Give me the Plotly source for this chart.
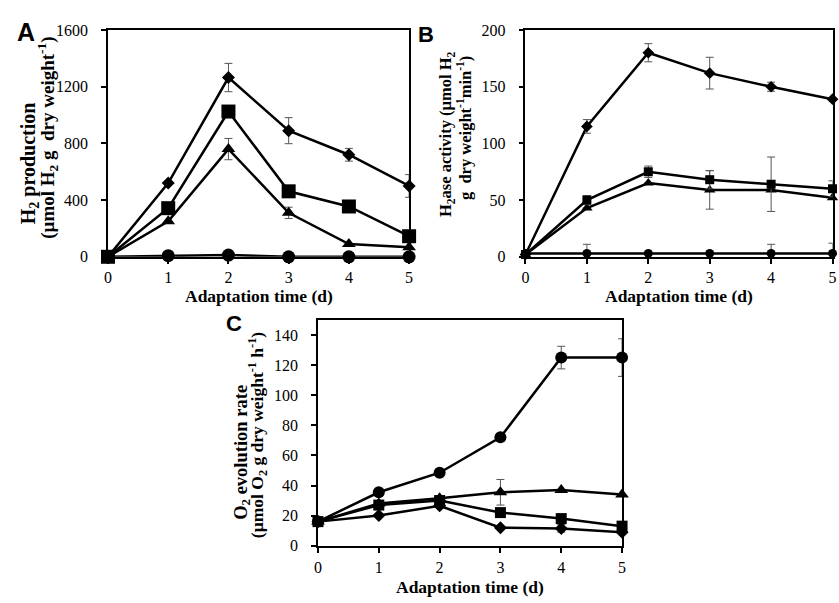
import plotly.graph_objects as go

W, H = 839, 603

days = [0, 1, 2, 3, 4, 5]
x_ticks = [0, 1, 2, 3, 4, 5]

# Panel A: H2 production
a_diamond = [0, 520, 1265, 890, 720, 500]
a_diamond_err = [0, 0, 100, 92, 45, 80]
a_square = [0, 343, 1025, 462, 355, 145]
a_square_err = [0, 0, 0, 0, 0, 0]
a_triangle = [0, 250, 760, 310, 90, 68]
a_triangle_err = [0, 0, 75, 40, 0, 0]
a_circle = [0, 8, 12, 0, 0, 0]
a_circle_err = [0, 0, 0, 0, 0, 0]
a_yticks = [0, 400, 800, 1200, 1600]

# Panel B: H2ase activity
b_diamond = [2, 115, 180, 162, 150, 139]
b_diamond_err = [0, 6, 8, 14, 4, 0]
b_square = [2, 50, 75, 68, 64, 60]
b_square_err = [0, 4, 5, 8, 24, 7]
b_triangle = [2, 43, 65, 59, 59, 52]
b_triangle_err = [0, 0, 0, 17, 0, 0]
b_circle = [3, 3, 3, 3, 3, 3]
b_circle_err = [0, 8, 0, 0, 8, 9]
b_yticks = [0, 50, 100, 150, 200]

# Panel C: O2 evolution rate
c_circle = [16, 35.5, 48.5, 72, 125, 125]
c_circle_err = [0, 0, 0, 0, 7.5, 12.5]
c_triangle = [16, 28, 31.5, 35.5, 37, 34]
c_triangle_err = [0, 0, 0, 8.5, 0, 0]
c_square = [16, 27, 30, 22, 18, 13]
c_square_err = [0, 0, 0, 0, 0, 0]
c_diamond = [16, 20, 26.5, 12, 11.5, 9]
c_diamond_err = [0, 0, 0, 0, 2.5, 0]
c_yticks = [0, 20, 40, 60, 80, 100, 120, 140]

SERIF = "Liberation Serif"


def px(xp):
    return xp / W


def py(yp):
    return 1 - yp / H


fig = go.Figure()


def add_series(xa, ya, yvals, errs, symbol, size):
    fig.add_trace(go.Scatter(
        x=days, y=yvals, xaxis=xa, yaxis=ya, mode="lines+markers",
        line=dict(color="black", width=2.5),
        marker=dict(symbol=symbol, size=size, color="black"),
        error_y=dict(type="data", array=errs, visible=True, color="#555555",
                     thickness=1, width=4),
        cliponaxis=False, showlegend=False,
    ))


# Panel A
add_series("x", "y", a_diamond, a_diamond_err, "diamond", 10)
add_series("x", "y", a_triangle, a_triangle_err, "triangle-up", 12)
add_series("x", "y", a_circle, a_circle_err, "circle", 13)
add_series("x", "y", a_square, a_square_err, "square", 14)
# Panel B
add_series("x2", "y2", b_diamond, b_diamond_err, "diamond", 9)
add_series("x2", "y2", b_triangle, b_triangle_err, "triangle-up", 10)
add_series("x2", "y2", b_circle, b_circle_err, "circle", 9)
add_series("x2", "y2", b_square, b_square_err, "square", 9)
# Panel C
add_series("x3", "y3", c_diamond, c_diamond_err, "diamond", 10)
add_series("x3", "y3", c_triangle, c_triangle_err, "triangle-up", 12)
add_series("x3", "y3", c_square, c_square_err, "square", 11)
add_series("x3", "y3", c_circle, c_circle_err, "circle", 12)

axis_common = dict(showline=True, linecolor="black", linewidth=1.8, mirror=True,
                   ticks="outside", ticklen=5, tickwidth=1.5, tickcolor="black",
                   showgrid=False, zeroline=False,
                   tickfont=dict(family=SERIF, size=16, color="black"))

fig.update_layout(
    autosize=True, margin=dict(l=0, r=0, t=0, b=0),
    paper_bgcolor="white", plot_bgcolor="white",
    xaxis=dict(domain=[px(105), px(409)], range=[0, 5], tickvals=x_ticks,
               anchor="y", **axis_common),
    yaxis=dict(domain=[py(256), py(22.7)], range=[0, 1600], tickvals=a_yticks,
               anchor="x", ticklabelstandoff=10, **axis_common),
    xaxis2=dict(domain=[px(526.5), px(836.5)], range=[0, 5], tickvals=x_ticks,
                anchor="y2", **axis_common),
    yaxis2=dict(domain=[py(256), py(22.7)], range=[0, 200], tickvals=b_yticks,
                anchor="x2", ticklabelstandoff=10, **axis_common),
    xaxis3=dict(domain=[px(317), px(624)], range=[0, 5], tickvals=x_ticks,
                anchor="y3", ticklabelstandoff=1, **axis_common),
    yaxis3=dict(domain=[py(553.3), py(321)], range=[0, 150], tickvals=c_yticks,
                anchor="x3", ticklabelstandoff=10, **axis_common),
)

ann = []


def text(x, y, s, size, family=SERIF, angle=0):
    ann.append(dict(x=px(x), y=py(y), xref="paper", yref="paper", text=s,
                    showarrow=False, textangle=angle, xanchor="center",
                    yanchor="middle",
                    font=dict(family=family, size=size, color="black")))


# x titles
xt = "<b>Adaptation time (d)</b>"
text(257, 296, xt, 17.5)
text(681, 296, xt, 17.5)
text(470.5, 596, xt, 17.5)

# panel letters
text(22, 25, "<b>A</b>", 25, family="Liberation Sans")
text(426.5, 27.5, "<b>B</b>", 22, family="Liberation Sans")
text(232, 325, "<b>C</b>", 22, family="Liberation Sans")

# y titles
text(26, 160, "<b>H<sub>2</sub> production</b>", 20, angle=-90)
text(44, 134, "<b>(µmol H<sub>2</sub> g\u00a0 dry weight<sup>-1</sup>)</b>", 19, angle=-90)
text(447, 130, "<b>H<sub>2</sub>ase activity (µmol H<sub>2</sub></b>", 16.5, angle=-90)
text(465, 124, "<b>g\u00a0 dry weight<sup>-1</sup>min<sup>-1</sup>)</b>", 16.5, angle=-90)
text(240, 457, "<b>O<sub>2</sub> evolution rate</b>", 18.5, angle=-90)
text(256, 440, "<b>(µmol O<sub>2</sub> g dry weight<sup>-1</sup> h<sup>-1</sup>)</b>", 17.5, angle=-90)

fig.update_layout(annotations=ann)

fig.write_html(
    "out.html",
    config={"displayModeBar": False, "responsive": True},
    default_width="100%", default_height="100%",
    post_script=(
        "document.documentElement.style.height='100%';"
        "document.documentElement.style.margin='0px';"
        "document.documentElement.style.overflow='hidden';"
        "document.body.style.height='100%';"
        "document.body.style.margin='0px';"
        "document.body.style.overflow='hidden';"
        "var gd=document.getElementById('{plot_id}');"
        "gd.style.width='100vw';gd.style.height='100vh';"
        "Plotly.Plots.resize(gd);"
    ),
)
